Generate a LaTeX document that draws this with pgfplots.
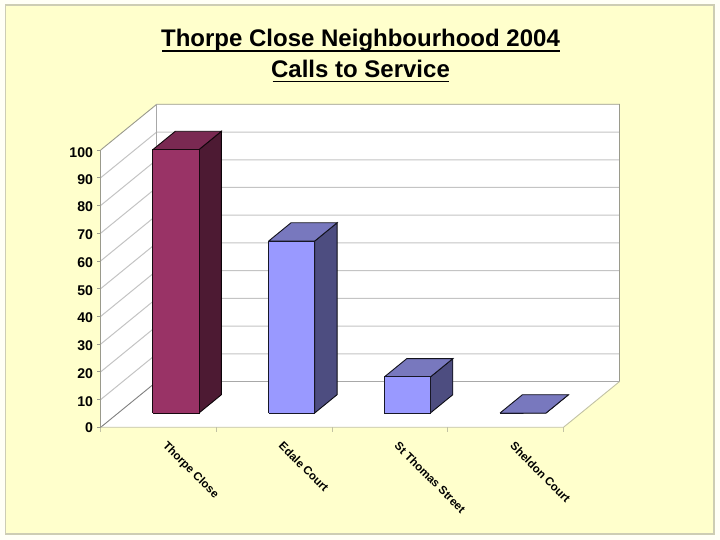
\documentclass[border=0pt]{standalone}
\usepackage{fontspec}
\setmainfont{Liberation Sans}
\usepackage{pgfplots}
\pgfplotsset{compat=1.18}
\definecolor{pagebg}{HTML}{FFFFF6}
\definecolor{chartbg}{HTML}{FFFFCC}
\definecolor{frameline}{HTML}{CDCDB4}
\definecolor{gridc}{HTML}{C4C4C4}
\definecolor{edgeA}{HTML}{9A9A8C}
\definecolor{edgeB}{HTML}{C2C2A4}
\definecolor{floorback}{HTML}{A8A8A8}
\definecolor{plumF}{HTML}{993366}
\definecolor{plumT}{HTML}{7A2952}
\definecolor{plumS}{HTML}{4D1A33}
\definecolor{blueF}{HTML}{9999FF}
\definecolor{blueT}{HTML}{7878BE}
\definecolor{blueS}{HTML}{4D4D80}
% x-left, x-right, value, front, top, side
\newcommand{\Bar}[6]{%
  \addplot3[fill=#6,draw=black!85!#6,line width=0.9pt,line join=miter] coordinates {(#2,0.313,0)(#2,0.713,0)(#2,0.713,#3)(#2,0.313,#3)(#2,0.313,0)};
  \addplot3[fill=#5,draw=black!85!#5,line width=0.9pt,line join=miter] coordinates {(#1,0.313,#3)(#2,0.313,#3)(#2,0.713,#3)(#1,0.713,#3)(#1,0.313,#3)};
  \addplot3[fill=#4,draw=black!85!#4,line width=0.9pt,line join=miter] coordinates {(#1,0.313,0)(#2,0.313,0)(#2,0.313,#3)(#1,0.313,#3)(#1,0.313,0)};
}
\begin{document}
\begin{tikzpicture}[x=1pt,y=1pt]
\useasboundingbox (0,0) rectangle (720,540);
\fill[pagebg] (0,0) rectangle (720,540);
\filldraw[fill=chartbg,draw=frameline,line width=1.5pt] (5.5,6) rectangle (714,535);
\node[font=\fontsize{24}{30}\selectfont\bfseries,anchor=base] at (360.5,493.6) {Thorpe Close Neighbourhood 2004};
\node[font=\fontsize{24}{30}\selectfont\bfseries,anchor=base] at (360.5,462) {Calls to Service};
\draw[line width=1.6pt] (162,489.2) -- (559.5,489.2);
\draw[line width=1.6pt] (272.7,458.6) -- (449,458.6);
\begin{axis}[
  at={(100.7pt,112.7pt)},anchor=south west,
  x={(115.7pt,0pt)},y={(56pt,45.7pt)},z={(0pt,2.773pt)},
  xmin=0,xmax=4,ymin=0,ymax=1,zmin=0,zmax=100,
  clip=false,
  axis line style={draw=none},
  /pgf/number format/assume math mode=true,
  tick label style={font=\bfseries},
  xtick={0.5,1.5,2.5,3.5},
  xticklabels={Thorpe Close,Edale Court,St Thomas Street,Sheldon Court},
  ytick=\empty,
  ztick={0,10,...,100},
  xtick pos=bottom,
  ztick pos=left,
  major tick length=0pt,
  x tick label style={font=\fontsize{11.5}{13}\selectfont\bfseries,rotate=-45,anchor=north west,inner sep=0pt,yshift=-2.6pt,xshift=16.4pt},
  z tick label style={font=\fontsize{14.1}{15}\selectfont\bfseries,inner sep=0pt,xshift=-7.5pt,yshift=1.2pt},
]
% walls and floor
\addplot3[fill=white,draw=none] coordinates {(0,0,0)(0,1,0)(0,1,100)(0,0,100)(0,0,0)};
\addplot3[fill=white,draw=none] coordinates {(0,1,0)(4,1,0)(4,1,100)(0,1,100)(0,1,0)};
\addplot3[fill=white,draw=none] coordinates {(0,0,0)(4,0,0)(4,1,0)(0,1,0)(0,0,0)};
% gridlines
\pgfplotsinvokeforeach{10,20,30,40,50,60,70,80,90}{
  \addplot3[gridc,line width=1pt] coordinates {(0,0,#1)(0,1,#1)(4,1,#1)};
}
\addplot3[edgeA,line width=0.9pt] coordinates {(0,0,100)(0,1,100)(4,1,100)(4,1,0)};
\addplot3[edgeA,line width=0.9pt] coordinates {(0,0,100)(0,0,0)};
\addplot3[gray,line width=0.9pt] coordinates {(0,0,0)(0,1,0)};
\addplot3[floorback,line width=1.2pt] coordinates {(0,1,100)(0,1,0)(4,1,0)};
\addplot3[edgeB,line width=0.9pt] coordinates {(0,0,0)(4,0,0)(4,1,0)};
% tick marks
\pgfplotsinvokeforeach{0,1,2,3,4}{
  \addplot3[edgeB,line width=0.8pt] coordinates {(#1,0,0)(#1,0,-1.8)};
}
\pgfplotsinvokeforeach{0,10,20,30,40,50,60,70,80,90,100}{
  \addplot3[edgeA,line width=0.8pt] coordinates {(0,0,#1)(-0.035,0,#1)};
}
% bars
\Bar{0.3}{0.698}{95}{plumF}{plumT}{plumS}
\Bar{1.3}{1.698}{62}{blueF}{blueT}{blueS}
\Bar{2.3}{2.698}{13}{blueF}{blueT}{blueS}
\Bar{3.3}{3.698}{0}{blueF}{blueT}{blueS}
\end{axis}
\end{tikzpicture}
\end{document}
